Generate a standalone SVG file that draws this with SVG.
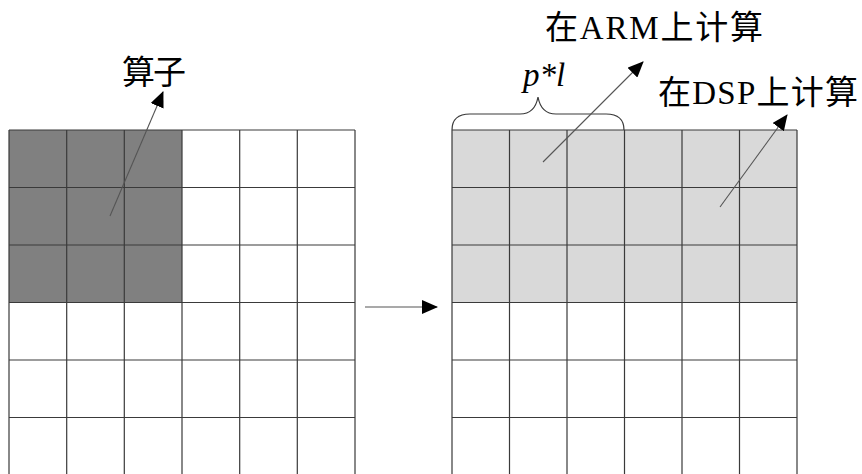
<svg xmlns="http://www.w3.org/2000/svg" width="862" height="474" viewBox="0 0 862 474">
<style>
.grid{stroke:#3a3a3a;stroke-width:1.2;fill:none}
.conn{stroke:#555;stroke-width:1.1;fill:none}
.lbl{font-family:"Liberation Serif","Noto Sans CJK SC",serif;font-size:33px;fill:#000}
.it{font-style:italic}
</style>
<defs>
<marker id="ah" viewBox="0 0 16 14" refX="15" refY="7" markerWidth="16" markerHeight="14" markerUnits="userSpaceOnUse" orient="auto">
<path d="M0,0 L16,7 L0,14 Z" fill="#000"/>
</marker>
</defs>
<rect width="862" height="474" fill="#fff"/>
<g id="left-grid">
<rect x="9" y="130" width="346" height="345" fill="#fff"/>
<rect id="operator" x="9" y="130" width="173" height="172.5" fill="#808080"/>
<path class="grid" d="M9,130V475M66.7,130V475M124.3,130V475M182,130V475M239.7,130V475M297.3,130V475M355,130V475M9,130H355M9,187.5H355M9,245H355M9,302.5H355M9,360H355M9,417.5H355"/>
</g>
<g id="right-grid">
<rect x="452" y="130" width="345" height="345" fill="#fff"/>
<rect id="compute-rows" x="452" y="130" width="345" height="172.5" fill="#d9d9d9"/>
<path class="grid" d="M452,130V475M509.5,130V475M567,130V475M624.5,130V475M682,130V475M739.5,130V475M797,130V475M452,130H797M452,187.5H797M452,245H797M452,302.5H797M452,360H797M452,417.5H797"/>
</g>
<g id="brace">
<path class="grid" d="M452,130 C452,119 458,114 470,114 L520,114 C530,114 536,108 538,97 C540,108 546,114 556,114 L606,114 C618,114 624,119 624,130"/>
</g>
<g id="labels">
<text id="lbl-operator" class="lbl" x="122" y="84" font-size="32" textLength="64">算子</text>
<text id="lbl-arm" class="lbl" x="545" y="39" textLength="218">在ARM上计算</text>
<text id="lbl-pl" class="lbl it" x="523" y="86">p*l</text>
<text id="lbl-dsp" class="lbl" x="658" y="104" textLength="200">在DSP上计算</text>
</g>
<g id="connectors">
<line class="conn" x1="110" y1="216" x2="163" y2="92" marker-end="url(#ah)"/>
<line class="conn" x1="543" y1="162" x2="643" y2="62" marker-end="url(#ah)"/>
<line class="conn" x1="720" y1="207" x2="787" y2="115" marker-end="url(#ah)"/>
<line class="conn" x1="365" y1="307" x2="437" y2="307" marker-end="url(#ah)"/>
</g>
</svg>
